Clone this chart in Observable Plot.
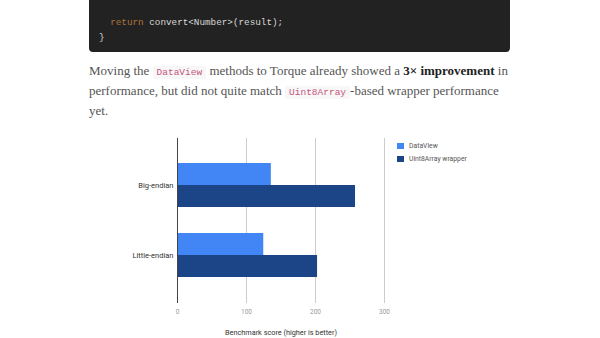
<!DOCTYPE html>
<html>
<head>
<meta charset="utf-8">
<script src="https://cdn.jsdelivr.net/npm/d3@7"></script>
<script src="https://cdn.jsdelivr.net/npm/@observablehq/plot@0.6"></script>
<style>
  html, body { margin: 0; padding: 0; background: #fff; }
  body { width: 600px; height: 338px; position: relative; overflow: hidden; }
  .code {
    position: absolute; left: 89px; top: -40px; width: 421px; height: 92px;
    background: #222; border-radius: 4px;
    font-family: "Liberation Mono", "DejaVu Sans Mono", monospace; font-size: 9.3px;
    color: #d8d8d8; line-height: 15px;
  }
  .code .lines { position: absolute; left: 10px; top: 25px; }
  .code .ln { white-space: pre; height: 15px; }
  .kw { color: #b0743a; }
  .para {
    position: absolute; left: 89px; top: 62px; white-space: nowrap;
    font-family: "Liberation Serif", "DejaVu Serif", serif; font-size: 13px;
    line-height: 18px; color: #555;
  }
  .para code {
    font-family: "Liberation Mono", "DejaVu Sans Mono", monospace; font-size: 9.5px;
    color: #c7557a; background: #f7f7f7; padding: 1px 4px; border-radius: 2px;
  }
  .para b { color: #222; }
  #chart { position: absolute; left: 0; top: 130px; }
  .legend {
    position: absolute; left: 397px; top: 139px;
    font-family: Roboto, "Noto Sans", sans-serif; font-size: 6.8px; color: #555;
  }
  .legend div { height: 13px; display: flex; align-items: center; }
  .legend span.sw { width: 7px; height: 6px; margin-right: 5px; display: inline-block; }
</style>
</head>
<body>
<div class="code"><div class="lines">
<div class="ln">  }</div>
<div class="ln"> </div>
<div class="ln">  <span class="kw">return</span> convert&lt;Number&gt;(result);</div>
<div class="ln">}</div>
</div></div>
<div class="para">Moving the <code>DataView</code> methods to Torque already showed a <b>3× improvement</b> in<br>performance, but did not quite match <code>Uint8Array</code>-based wrapper performance<br>yet.</div>
<div id="chart"></div>
<div class="legend" id="legend"></div>
<script>
const categories = ["Big-endian", "Little-endian"];
const seriesNames = ["DataView", "Uint8Array wrapper"];
const dataViewScores = [136, 125];
const uint8ArrayScores = [258, 203];
const xTicks = [0, 100, 200, 300];
const colors = ["#4285f4", "#1c4587"];
const axisTitle = "Benchmark score (higher is better)";

const dvData = categories.map((c, i) => ({category: c, value: dataViewScores[i]}));
const u8Data = categories.map((c, i) => ({category: c, value: uint8ArrayScores[i]}));

const plot = Plot.plot({
  width: 600,
  height: 208,
  marginLeft: 177,
  marginRight: 216,
  marginTop: 8,
  marginBottom: 35,
  style: {fontFamily: "Roboto, 'Noto Sans', sans-serif", background: "transparent"},
  x: {domain: [0, 300]},
  y: {domain: categories, paddingInner: 0.3714, paddingOuter: 0.364},
  marks: [
    Plot.gridX(xTicks, {stroke: "#ccc", strokeOpacity: 1}),
    Plot.barX(dvData, {x: "value", y: "category", fill: colors[0], insetBottom: 22, insetTop: 0}),
    Plot.barX(u8Data, {x: "value", y: "category", fill: colors[1], insetTop: 22, insetBottom: 0}),
    Plot.ruleX([0], {stroke: "#444", strokeWidth: 1}),
    Plot.axisX({ticks: xTicks, tickSize: 0, tickPadding: 6, fontSize: 6.5, color: "#999", label: null}),
    Plot.axisX({ticks: [], tickSize: 0, fontSize: 7.3, color: "#333",
      label: axisTitle, labelAnchor: "center", labelOffset: 31, labelArrow: "none"}),
    Plot.axisY({tickSize: 0, tickPadding: 4, fontSize: 7.5, color: "#333", label: null})
  ]
});
document.getElementById("chart").appendChild(plot);

const legend = document.getElementById("legend");
seriesNames.forEach((s, i) => {
  const row = document.createElement("div");
  row.innerHTML = `<span class="sw" style="background:${colors[i]}"></span>${s}`;
  legend.appendChild(row);
});
</script>
</body>
</html>
